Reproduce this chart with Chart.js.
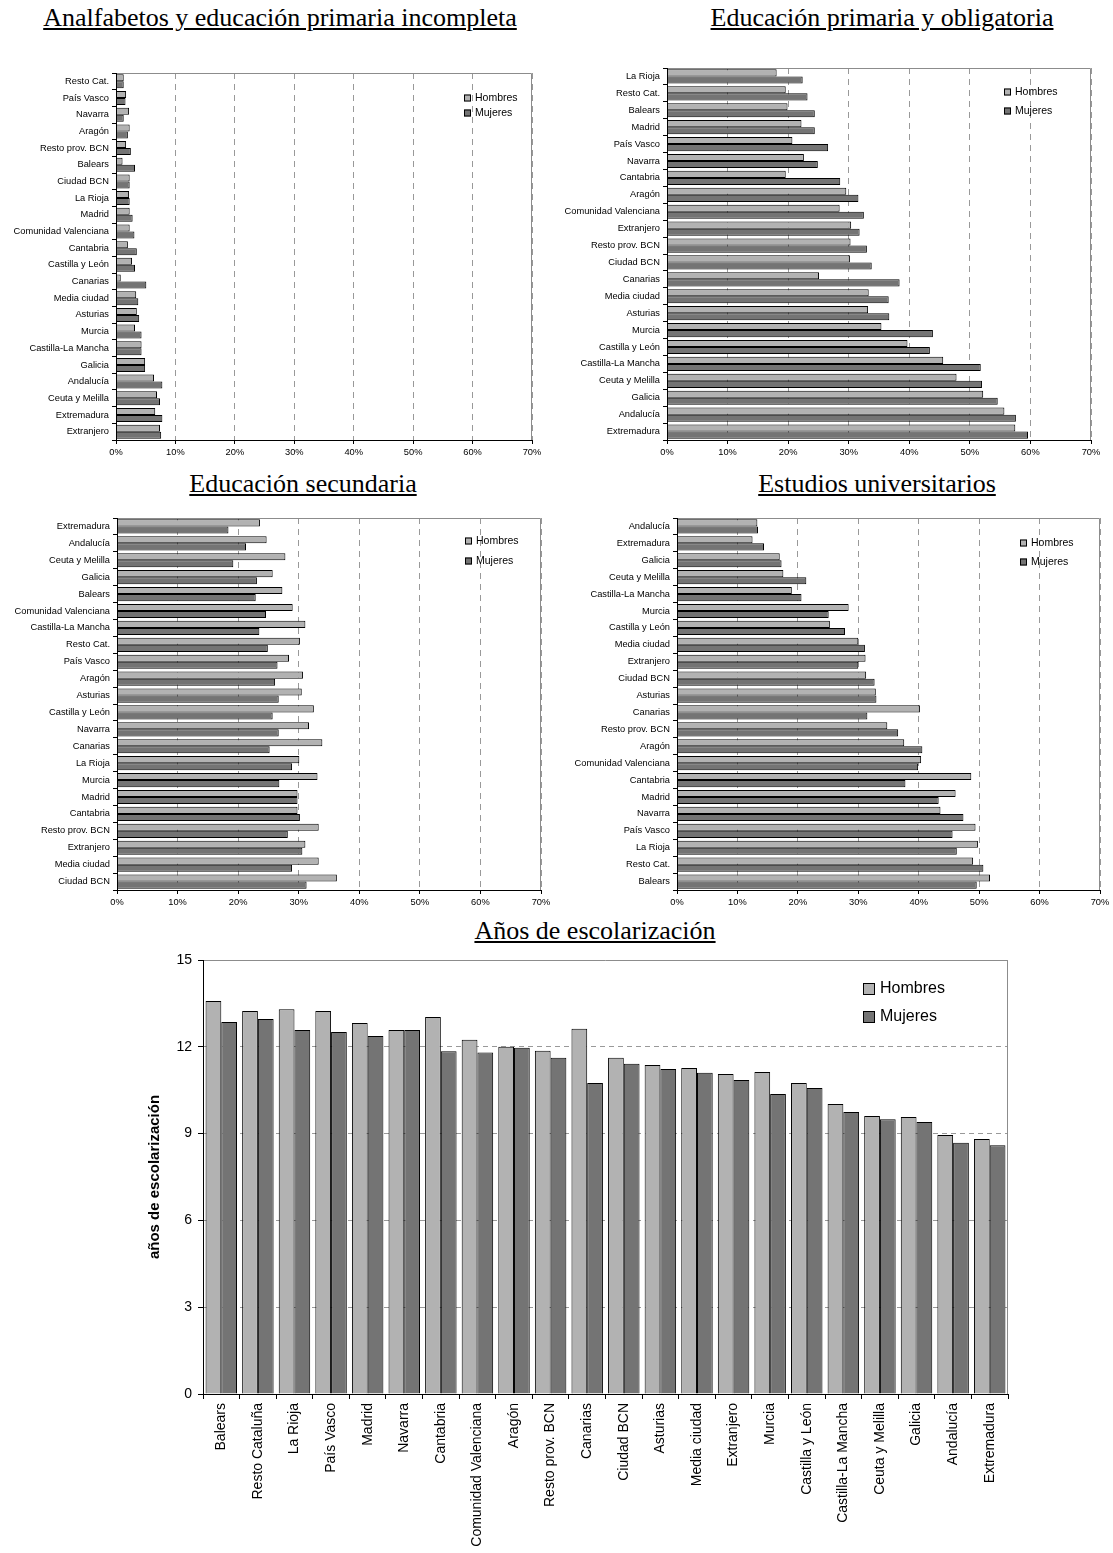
<!DOCTYPE html>
<html>
<head>
<meta charset="utf-8">
<script src="https://cdn.jsdelivr.net/npm/chart.js@4.4.1/dist/chart.umd.min.js"></script>
<style>
body { margin: 0; background: #fff; width: 1113px; height: 1553px; position: relative; overflow: hidden; }
canvas { position: absolute; }
.title { position: absolute; font-family: "Liberation Serif", "Times New Roman", serif; font-size: 26px; line-height: 30px;
  text-decoration: underline; white-space: nowrap; transform: translateX(-50%); color: #000; }
</style>
</head>
<body>
<div class="title" style="left:280px;top:3px">Analfabetos y educación primaria incompleta</div>
<div class="title" style="left:882px;top:3px">Educación primaria y obligatoria</div>
<div class="title" style="left:303px;top:469px">Educación secundaria</div>
<div class="title" style="left:877px;top:469px">Estudios universitarios</div>
<div class="title" style="left:595px;top:916px">Años de escolarización</div>

<canvas id="analf" style="left:0;top:60px" width="560" height="410"></canvas>
<canvas id="prim" style="left:556px;top:55px" width="557" height="415"></canvas>
<canvas id="sec" style="left:0;top:505px" width="560" height="415"></canvas>
<canvas id="univ" style="left:556px;top:505px" width="557" height="415"></canvas>
<canvas id="anos" style="left:100px;top:945px" width="930" height="608"></canvas>

<script>
// --- datos ---
const analfCats = ['Resto Cat.', 'País Vasco', 'Navarra', 'Aragón', 'Resto prov. BCN', 'Balears', 'Ciudad BCN', 'La Rioja',
  'Madrid', 'Comunidad Valenciana', 'Cantabria', 'Castilla y León', 'Canarias', 'Media ciudad', 'Asturias', 'Murcia',
  'Castilla-La Mancha', 'Galicia', 'Andalucía', 'Ceuta y Melilla', 'Extremadura', 'Extranjero'];
const analfHombres = [1.3, 1.7, 2.2, 2.3, 1.7, 1.1, 2.3, 2.2, 2.3, 2.3, 2.0, 2.7, 0.8, 3.4, 3.5, 3.2, 4.3, 4.9, 6.4, 6.9, 6.6, 7.4];
const analfMujeres = [1.3, 1.6, 1.3, 2.0, 2.5, 3.2, 2.3, 2.3, 2.8, 3.1, 3.5, 3.2, 5.1, 3.75, 3.9, 4.3, 4.3, 4.9, 7.8, 7.4, 7.8, 7.6];

const primCats = ['La Rioja', 'Resto Cat.', 'Balears', 'Madrid', 'País Vasco', 'Navarra', 'Cantabria', 'Aragón',
  'Comunidad Valenciana', 'Extranjero', 'Resto prov. BCN', 'Ciudad BCN', 'Canarias', 'Media ciudad', 'Asturias', 'Murcia',
  'Castilla y León', 'Castilla-La Mancha', 'Ceuta y Melilla', 'Galicia', 'Andalucía', 'Extremadura'];
const primHombres = [18.1, 19.6, 19.9, 22.2, 20.7, 22.6, 19.6, 29.6, 28.5, 30.4, 30.3, 30.2, 25.1, 33.3, 33.2, 35.4, 39.7, 45.6, 47.8, 52.2, 55.7, 57.5];
const primMujeres = [22.4, 23.2, 24.4, 24.4, 26.6, 24.9, 28.6, 31.6, 32.5, 31.8, 33.0, 33.8, 38.4, 36.6, 36.7, 43.9, 43.4, 51.8, 52.0, 54.6, 57.6, 59.6];

const secCats = ['Extremadura', 'Andalucía', 'Ceuta y Melilla', 'Galicia', 'Balears', 'Comunidad Valenciana', 'Castilla-La Mancha',
  'Resto Cat.', 'País Vasco', 'Aragón', 'Asturias', 'Castilla y León', 'Navarra', 'Canarias', 'La Rioja', 'Murcia', 'Madrid',
  'Cantabria', 'Resto prov. BCN', 'Extranjero', 'Media ciudad', 'Ciudad BCN'];
const secHombres = [23.6, 24.7, 27.8, 25.7, 27.3, 29.0, 31.1, 30.2, 28.4, 30.7, 30.5, 32.5, 31.7, 33.9, 30.1, 33.1, 29.8, 29.8, 33.3, 31.1, 33.3, 36.3];
const secMujeres = [18.4, 21.3, 19.2, 23.1, 22.9, 24.6, 23.5, 24.9, 26.5, 26.1, 26.7, 25.7, 26.7, 25.2, 28.9, 26.8, 29.8, 30.2, 28.2, 30.6, 28.9, 31.3];

const univCats = ['Andalucía', 'Extremadura', 'Galicia', 'Ceuta y Melilla', 'Castilla-La Mancha', 'Murcia', 'Castilla y León',
  'Media ciudad', 'Extranjero', 'Ciudad BCN', 'Asturias', 'Canarias', 'Resto prov. BCN', 'Aragón', 'Comunidad Valenciana',
  'Cantabria', 'Madrid', 'Navarra', 'País Vasco', 'La Rioja', 'Resto Cat.', 'Balears'];
const univHombres = [13.3, 12.5, 17.0, 17.6, 19.0, 28.4, 25.3, 30.0, 31.2, 31.3, 32.9, 40.2, 34.8, 37.6, 40.4, 48.7, 46.1, 43.6, 49.4, 49.8, 49.0, 51.8];
const univMujeres = [13.4, 14.4, 17.3, 21.4, 20.6, 25.1, 27.8, 31.1, 30.0, 32.7, 33.0, 31.5, 36.6, 40.6, 39.9, 37.8, 43.3, 47.4, 45.6, 46.3, 50.7, 49.6];

const anosCats = ['Balears', 'Resto Cataluña', 'La Rioja', 'País Vasco', 'Madrid', 'Navarra', 'Cantabria', 'Comunidad Valenciana',
  'Aragón', 'Resto prov. BCN', 'Canarias', 'Ciudad BCN', 'Asturias', 'Media ciudad', 'Extranjero', 'Murcia', 'Castilla y León',
  'Castilla-La Mancha', 'Ceuta y Melilla', 'Galicia', 'Andalucía', 'Extremadura'];
const anosHombres = [13.58, 13.24, 13.3, 13.24, 12.82, 12.58, 13.03, 12.24, 12.0, 11.86, 12.62, 11.62, 11.37, 11.27, 11.06, 11.13, 10.75, 10.02, 9.61, 9.57, 8.95, 8.81];
const anosMujeres = [12.86, 12.96, 12.58, 12.51, 12.37, 12.58, 11.85, 11.8, 11.97, 11.62, 10.75, 11.41, 11.23, 11.1, 10.85, 10.37, 10.58, 9.75, 9.5, 9.4, 8.68, 8.6];

const pctTicks = [0, 10, 20, 30, 40, 50, 60, 70];
const anosTicks = [0, 3, 6, 9, 12, 15];

const colHombres = '#b2b2b2';
const colMujeres = '#747474';

Chart.defaults.font.family = '"Liberation Sans", Arial, sans-serif';
Chart.defaults.color = '#000';

// borde gris arriba y a la derecha del área de trazado
const plotFrame = {
  id: 'plotFrame',
  beforeDatasetsDraw(chart) {
    const a = chart.chartArea, c = chart.ctx;
    c.save();
    c.strokeStyle = '#8c8c8c';
    c.lineWidth = 1;
    c.setLineDash([]);
    c.beginPath();
    c.moveTo(a.left, a.top + 0.5);
    c.lineTo(a.right - 0.5, a.top + 0.5);
    c.lineTo(a.right - 0.5, a.bottom);
    c.stroke();
    c.restore();
  }
};

// leyenda dentro del área de trazado
const boxLegend = {
  id: 'boxLegend',
  afterDraw(chart, args, o) {
    const a = chart.chartArea, c = chart.ctx;
    c.save();
    c.font = o.size + 'px "Liberation Sans", Arial, sans-serif';
    c.textBaseline = 'middle';
    chart.data.datasets.forEach((ds, i) => {
      const x = a.right - o.right;
      const y = a.top + o.top + i * o.gap;
      c.fillStyle = ds.backgroundColor;
      c.fillRect(x, y - o.box / 2, o.box, o.box);
      c.strokeStyle = '#000';
      c.lineWidth = 1;
      c.strokeRect(x + 0.5, y - o.box / 2 + 0.5, o.box - 1, o.box - 1);
      c.fillStyle = '#000';
      c.fillText(ds.label, x + o.box + o.space, y);
    });
    c.restore();
  }
};

function makeHBar(id, cats, hombres, mujeres, yWidth, padding, legend) {
  return new Chart(document.getElementById(id), {
    type: 'bar',
    data: {
      labels: cats,
      datasets: [
        { label: 'Hombres', data: hombres, backgroundColor: colHombres, borderColor: '#000', borderWidth: 1 },
        { label: 'Mujeres', data: mujeres, backgroundColor: colMujeres, borderColor: '#000', borderWidth: 1 }
      ]
    },
    options: {
      indexAxis: 'y',
      responsive: false,
      animation: false,
      layout: { padding: padding },
      datasets: { bar: { categoryPercentage: 0.84, barPercentage: 1 } },
      plugins: { legend: { display: false }, tooltip: { enabled: false }, boxLegend: legend },
      scales: {
        x: {
          min: pctTicks[0], max: pctTicks[pctTicks.length - 1],
          afterBuildTicks: s => { s.ticks = pctTicks.map(v => ({ value: v })); },
          ticks: { callback: v => v + '%', font: { size: 9.3 }, padding: 3, maxRotation: 0, autoSkip: false },
          grid: { color: '#999', tickColor: '#000', tickLength: 4 },
          border: { color: '#000', dash: [6, 5], z: 1 },
          afterFit: s => { s.height = 30; }
        },
        y: {
          ticks: { font: { size: 9.3 }, padding: 3, autoSkip: false },
          grid: { drawOnChartArea: false, offset: true, tickColor: '#000', tickLength: 4 },
          border: { color: '#000', z: 1 },
          afterFit: s => { s.width = yWidth; }
        }
      }
    },
    plugins: [plotFrame, boxLegend]
  });
}

makeHBar('analf', analfCats, analfHombres, analfMujeres, 116, { top: 13, right: 28, bottom: 0, left: 0 },
  { right: 68, top: 25, gap: 15, box: 7, space: 4, size: 10.5 });
makeHBar('prim', primCats, primHombres, primMujeres, 111, { top: 13, right: 22, bottom: 0, left: 0 },
  { right: 87, top: 24, gap: 19, box: 7, space: 4, size: 10.5 });
makeHBar('sec', secCats, secHombres, secMujeres, 117, { top: 13, right: 19, bottom: 0, left: 0 },
  { right: 76, top: 23, gap: 20, box: 7, space: 4, size: 10.5 });
makeHBar('univ', univCats, univHombres, univMujeres, 121, { top: 13, right: 13, bottom: 0, left: 0 },
  { right: 80, top: 25, gap: 19, box: 7, space: 4, size: 10.5 });

new Chart(document.getElementById('anos'), {
  type: 'bar',
  data: {
    labels: anosCats,
    datasets: [
      { label: 'Hombres', data: anosHombres, backgroundColor: colHombres, borderColor: '#000', borderWidth: 1 },
      { label: 'Mujeres', data: anosMujeres, backgroundColor: colMujeres, borderColor: '#000', borderWidth: 1 }
    ]
  },
  options: {
    responsive: false,
    animation: false,
    layout: { padding: { top: 15, right: 22, bottom: 0, left: 46 } },
    datasets: { bar: { categoryPercentage: 0.86, barPercentage: 1 } },
    plugins: {
      legend: { display: false }, tooltip: { enabled: false },
      boxLegend: { right: 145, top: 29, gap: 28, box: 12, space: 5, size: 16 }
    },
    scales: {
      x: {
        ticks: { font: { size: 14 }, minRotation: 90, maxRotation: 90, autoSkip: false, padding: 4 },
        grid: { drawOnChartArea: false, offset: true, tickColor: '#000', tickLength: 5 },
        border: { color: '#000', z: 1 },
        afterFit: s => { s.height = 159; }
      },
      y: {
        min: anosTicks[0], max: anosTicks[anosTicks.length - 1],
        afterBuildTicks: s => { s.ticks = anosTicks.map(v => ({ value: v })); },
        ticks: { font: { size: 14 }, padding: 6 },
        grid: { color: '#999', tickColor: '#000', tickLength: 5 },
        border: { color: '#000', dash: [5, 4], z: 1 },
        title: { display: true, text: 'años de escolarización', font: { size: 15, weight: 'bold' }, padding: 0 },
        afterFit: s => { s.width = 57; }
      }
    }
  },
  plugins: [plotFrame, boxLegend]
});
</script>
</body>
</html>
